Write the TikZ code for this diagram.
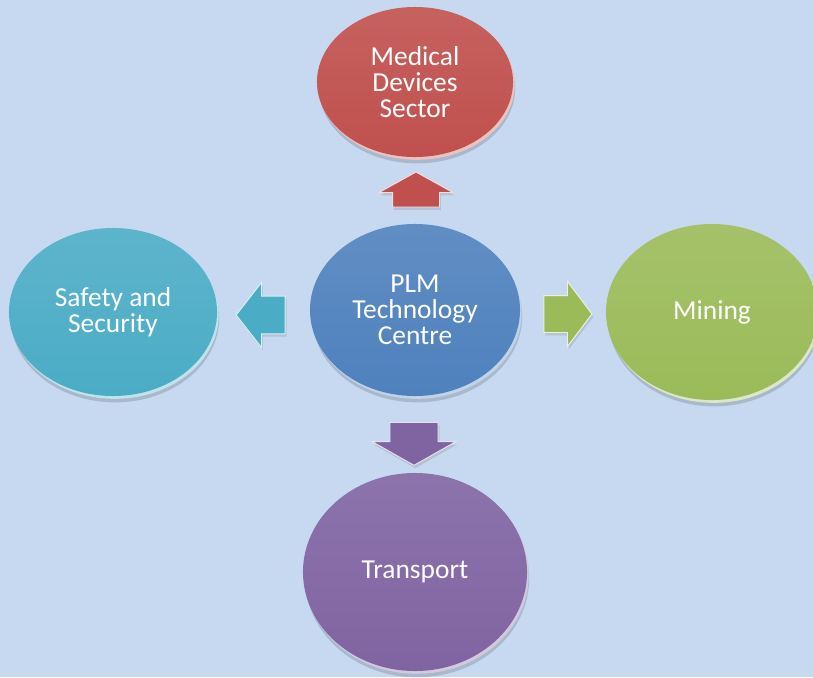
\documentclass[tikz,border=0pt]{standalone}
\usepackage{fontspec}
\setmainfont{Carlito}
\usepackage{xcolor}
\usepackage{tikz}
\usetikzlibrary{shapes.geometric,shapes.arrows,shadows,positioning}
\definecolor{bgblue}{RGB}{198,217,241}
\definecolor{hubblue}{RGB}{79,129,189}
\definecolor{medred}{RGB}{192,80,77}
\definecolor{safeteal}{RGB}{75,172,198}
\definecolor{minegreen}{RGB}{155,187,89}
\definecolor{transpurple}{RGB}{128,100,162}
\tikzset{
  disc/.style    = {ellipse, inner sep=0pt, text=white, align=center,
                    font=\fontsize{19.5}{18.5}\selectfont,
                    preaction={fill=black, opacity=0.15,
                               transform canvas={shift={(1.5pt,-4.5pt)}}},
                    preaction={fill=#1!35!white,
                               transform canvas={shift={(1.2pt,-2pt)}}},
                    top color=#1!90!white, bottom color=#1},
  barrow/.style  = {single arrow, inner xsep=0pt, text height=0pt,
                    text depth=0pt, fill=#1, draw=#1!20!white,
                    line width=0.7pt,
                    drop shadow={opacity=0.25, shadow xshift=1pt,
                                 shadow yshift=-2pt}},
}
\begin{document}
\begin{tikzpicture}[x=0.025cm, y=-0.025cm]
  \useasboundingbox (0,0) rectangle (813,677);
  \fill[bgblue] (0,0) rectangle (813,677);
  % discs
  \node[disc=hubblue, minimum width=52.5mm, minimum height=43mm]
       (hub) at (415,310) {PLM\\Technology\\Centre};
  \node[disc=medred, minimum width=49mm, minimum height=37.5mm]
       (med) at (415,82) {Medical\\Devices\\Sector};
  \node[disc=safeteal, minimum width=52mm, minimum height=42mm]
       (safe) at (113,312) {Safety and\\Security};
  \node[disc=minegreen, minimum width=53mm, minimum height=44mm]
       (mine) at (712,312) {Mining};
  \node[disc=transpurple, minimum width=56mm, minimum height=49.5mm]
       (trans) at (415,572) {Transport};
  % block arrows
  \node[barrow=medred, rotate=90, minimum height=8.75mm, inner ysep=5.75mm,
        single arrow head extend=3.375mm, single arrow tip angle=122]
       (medArrow) at (416,196) {};
  \node[barrow=safeteal, rotate=180, minimum height=12.25mm, inner ysep=4.6mm,
        single arrow head extend=3.4mm, single arrow tip angle=104]
       (safeArrow) at (268,315) {};
  \node[barrow=minegreen, minimum height=12mm, inner ysep=4.5mm,
        single arrow head extend=3.5mm, single arrow tip angle=106]
       (mineArrow) at (561,314) {};
  \node[barrow=transpurple, rotate=-90, minimum height=10.75mm, inner ysep=5.9mm,
        single arrow head extend=4.4mm, single arrow tip angle=121]
       (transArrow) at (414,437) {};
\end{tikzpicture}
\end{document}
